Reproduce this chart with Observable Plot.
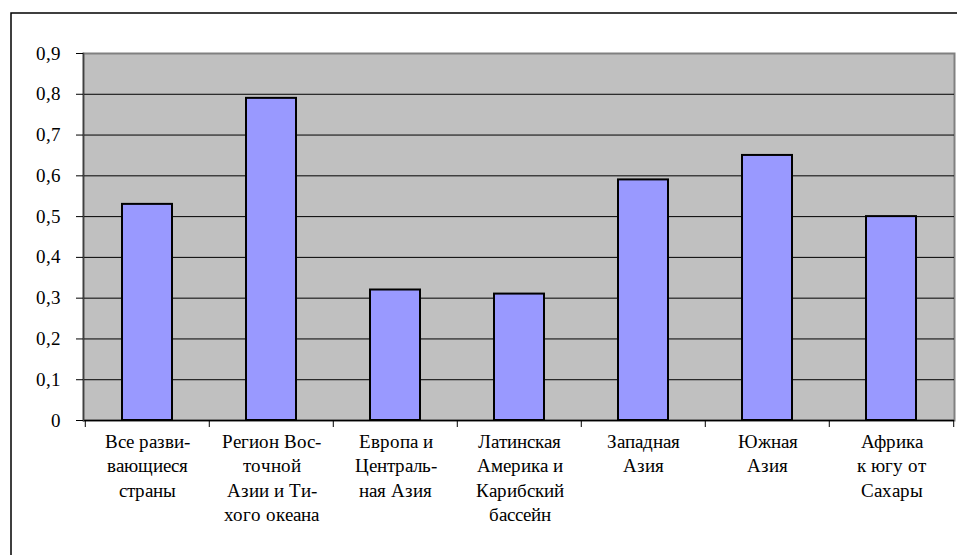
<!DOCTYPE html>
<html>
<head>
<meta charset="utf-8">
<script src="https://cdn.jsdelivr.net/npm/d3@7"></script>
<script src="https://cdn.jsdelivr.net/npm/@observablehq/plot@0.6"></script>
<style>
  @font-face { font-family: "ChartSerif"; src: local("Liberation Serif"), local("LiberationSerif"), local("Liberation Serif Regular"), local("LiberationSerif-Regular"); }
  body { margin: 0; font-family: "ChartSerif", "Liberation Serif", serif; }
  #chart svg text, #chart svg tspan { font-family: "ChartSerif", "Liberation Serif", serif !important; }
</style>
</head>
<body>
<div id="chart"></div>
<script>
const categories = [
  "Все развивающиеся страны",
  "Регион Восточной Азии и Тихого океана",
  "Европа и Центральная Азия",
  "Латинская Америка и Карибский бассейн",
  "Западная Азия",
  "Южная Азия",
  "Африка к югу от Сахары"
];
const categoryLabels = [
  "Все разви-\nвающиеся\nстраны",
  "Регион Вос-\nточной\nАзии и Ти-\nхого океана",
  "Европа и\nЦентраль-\nная Азия",
  "Латинская\nАмерика и\nКарибский\nбассейн",
  "Западная\nАзия",
  "Южная\nАзия",
  "Африка\nк югу от\nСахары"
];
const values = [0.53, 0.79, 0.32, 0.31, 0.59, 0.65, 0.50];
const yTicks = [0, 0.1, 0.2, 0.3, 0.4, 0.5, 0.6, 0.7, 0.8, 0.9];
const yTickLabels = ["0", "0,1", "0,2", "0,3", "0,4", "0,5", "0,6", "0,7", "0,8", "0,9"];

const data = categories.map((c, i) => ({category: c, value: values[i]}));
const labelOf = new Map(categories.map((c, i) => [c, categoryLabels[i]]));
const yLabelOf = new Map(yTicks.map((t, i) => [t, yTickLabels[i]]));

const W = 957, H = 555, mL = 83, mR = 3, mT = 53, mB = 135;
const step = (W - mL - mR) / categories.length;
const serif = "ChartSerif, 'Liberation Serif', serif";

const chart = Plot.plot({
  width: W,
  height: H,
  marginLeft: mL,
  marginRight: mR,
  marginTop: mT,
  marginBottom: mB,
  style: {fontFamily: serif, fontSize: "19px", color: "#000"},
  x: {domain: categories, paddingInner: 0.6, paddingOuter: 0.3, label: null},
  y: {domain: [0, 0.9], label: null},
  marks: [
    Plot.frame({fill: "none", stroke: "#000", strokeWidth: 1.5, insetLeft: -(mL - 10.5), insetTop: -(mT - 12.5), insetRight: -20, insetBottom: -(mB + 20)}),
    Plot.frame({fill: "#C0C0C0", stroke: "#808080", strokeWidth: 2}),
    Plot.gridY(yTicks.filter(t => t > 0 && t < 0.9), {stroke: "#000", strokeOpacity: 1, strokeWidth: 1}),
    Plot.barY(data, {x: "category", y: "value", fill: "#9999FF", stroke: "#000", strokeWidth: 2}),
    Plot.ruleY([0], {stroke: "#000", strokeWidth: 1.5}),
    Plot.frame({anchor: "left", stroke: "#404040", strokeWidth: 1.5}),
    Plot.axisY({ticks: yTicks, tickSize: 7, tickPadding: 16, tickFormat: d => yLabelOf.get(d), fontSize: 19, fontFamily: serif, stroke: "#000", strokeWidth: 1}),
    Plot.axisX({tickSize: 7, text: null, dx: -step / 2, stroke: "#000"}),
    Plot.axisX({ticks: [categories[categories.length - 1]], tickSize: 7, text: null, dx: step / 2, stroke: "#000"}),
    Plot.axisX({tickSize: 0, tickPadding: 10, tickFormat: d => labelOf.get(d), fontSize: 19, fontFamily: serif, lineHeight: 1.29})
  ]
});
chart.setAttribute("font-family", serif);
document.getElementById("chart").appendChild(chart);
</script>
</body>
</html>
